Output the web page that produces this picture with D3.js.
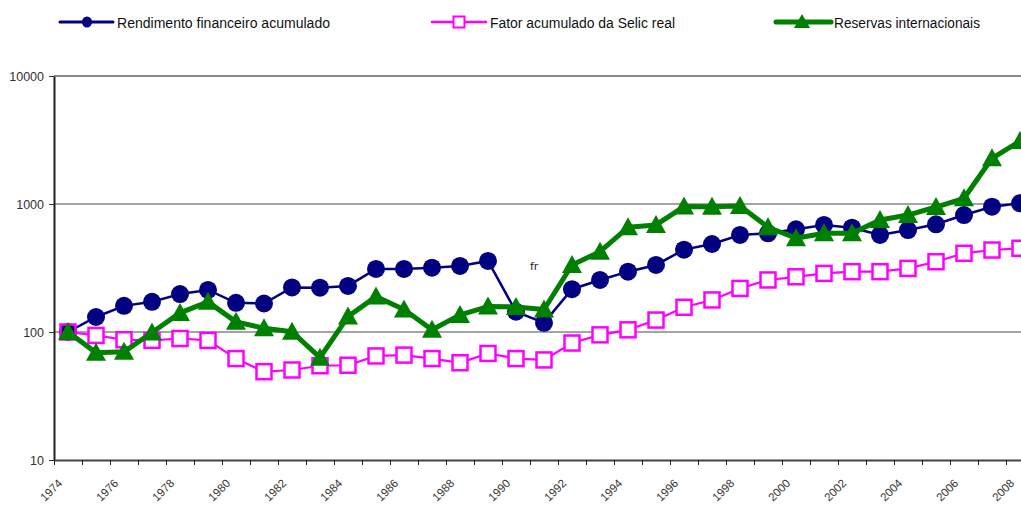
<!DOCTYPE html>
<html>
<head>
<meta charset="utf-8">
<script src="https://cdn.jsdelivr.net/npm/d3@7"></script>
<style>
  body { margin: 0; background: #fff; }
  svg { display: block; }
  .ylab, .xlab { font-family: "Liberation Sans", Arial, sans-serif; fill: #333; }
  .leg { font-family: "Liberation Sans Narrow", "Liberation Sans", Arial, sans-serif; font-size: 15.5px; fill: #111; }
</style>
</head>
<body>
<div id="chart"></div>
<script>
// data (log scale, 1974 = 100)
var years = [1974, 1975, 1976, 1977, 1978, 1979, 1980, 1981, 1982, 1983,
             1984, 1985, 1986, 1987, 1988, 1989, 1990, 1991, 1992, 1993,
             1994, 1995, 1996, 1997, 1998, 1999, 2000, 2001, 2002, 2003,
             2004, 2005, 2006, 2007, 2008];

var rendimento = [100, 131, 160, 172, 198, 213, 169, 167, 223, 222,
                  229, 311, 311, 318, 328, 359, 144, 118, 216, 255,
                  296, 334, 440, 487, 573, 590, 634, 686, 653, 573,
                  626, 694, 820, 952, 1013];

var selic = [100, 94, 87, 86, 89, 86, 62, 49, 50.5, 54.5,
             55, 65, 66, 62, 57.5, 68, 62, 60.5, 82, 95,
             104, 124, 156, 178, 219, 255, 270, 287, 296, 296,
             314, 354, 412, 437, 451];

var reservas = [100, 69, 70, 99, 141, 172, 120, 107, 100.5, 63,
                132, 189, 150, 104, 136, 158, 157, 150, 334, 424,
                658, 686, 955, 952, 965, 658, 540, 590, 590, 750,
                820, 947, 1108, 2276, 3100];

var yTicks = [10, 100, 1000, 10000];
var labelYears = years.filter(function(y) { return y % 2 === 0; });

var legendNames = ["Rendimento financeiro acumulado",
                   "Fator acumulado da Selic real",
                   "Reservas internacionais"];

//---------------------------------------------------------------------------
var W = 1021, H = 505;
var plotLeft = 54, plotTop = 76, plotBottom = 460;
var band = 28;

var svg = d3.select("#chart").append("svg")
    .attr("width", W)
    .attr("height", H);

var x = d3.scaleBand()
    .domain(years)
    .range([plotLeft, plotLeft + band * years.length])
    .padding(0);
var cx = function(d, i) { return x(years[i]) + x.bandwidth() / 2; };

var y = d3.scaleLog()
    .domain([10, 10000])
    .range([plotBottom, plotTop]);

// gridlines (1000 and 100 dark, top border grey)
svg.append("g").selectAll("line")
    .data([100, 1000]).enter()
    .append("line")
    .attr("x1", plotLeft).attr("x2", x.range()[1])
    .attr("y1", function(d) { return y(d); })
    .attr("y2", function(d) { return y(d); })
    .attr("stroke", "#4a4a4a")
    .attr("stroke-width", 1.2);

svg.append("line")
    .attr("x1", plotLeft).attr("x2", x.range()[1])
    .attr("y1", y(10000)).attr("y2", y(10000))
    .attr("stroke", "#8a8a8a")
    .attr("stroke-width", 2);

// y axis
var yAxis = svg.append("g")
    .attr("transform", "translate(" + plotLeft + ",0)")
    .call(d3.axisLeft(y).tickValues(yTicks).tickFormat(d3.format("d")).tickSize(5).tickSizeOuter(0));
yAxis.select(".domain").attr("stroke", "#222").attr("stroke-width", 2);
yAxis.selectAll(".tick line").attr("stroke", "#333");
yAxis.selectAll(".tick text")
    .attr("class", "ylab")
    .attr("font-size", 12.5)
    .attr("x", -10);
yAxis.attr("font-family", null).attr("font-size", null);

// x axis: ticks on category boundaries
var xEdge = d3.scaleLinear()
    .domain([years[0], years[years.length - 1] + 1])
    .range(x.range());
var xAxis = svg.append("g")
    .attr("transform", "translate(0," + plotBottom + ")")
    .call(d3.axisBottom(xEdge)
        .tickValues(d3.range(years[0], years[years.length - 1] + 2))
        .tickFormat("")
        .tickSize(5)
        .tickSizeOuter(0));
xAxis.select(".domain").attr("stroke", "#444").attr("stroke-width", 2.2);
xAxis.selectAll(".tick line").attr("stroke", "#222");

svg.append("g").selectAll("text")
    .data(labelYears).enter()
    .append("text")
    .attr("class", "xlab")
    .attr("font-size", 11.5)
    .attr("text-anchor", "end")
    .attr("transform", function(d) {
        return "translate(" + (x(d) + x.bandwidth() / 2 - 5) + "," + (plotBottom + 24) + ") rotate(-45)";
    })
    .text(function(d) { return d; });

//---------------------------------------------------------------------------
// series
var line = d3.line()
    .x(cx)
    .y(function(d) { return y(d); });

var triangle = "M0,-10L10,8L-10,8Z";

// navy line
svg.append("path")
    .datum(rendimento)
    .attr("d", line)
    .attr("fill", "none")
    .attr("stroke", "#000080")
    .attr("stroke-width", 2.5);

// magenta line + white square backs
svg.append("path")
    .datum(selic)
    .attr("d", line)
    .attr("fill", "none")
    .attr("stroke", "#ff00ff")
    .attr("stroke-width", 2.2);

svg.append("g").selectAll("rect")
    .data(selic).enter()
    .append("rect")
    .attr("x", function(d, i) { return cx(d, i) - 7.5; })
    .attr("y", function(d) { return y(d) - 7.5; })
    .attr("width", 15).attr("height", 15)
    .attr("fill", function(d, i) { return i === 0 ? "none" : "#fff"; });

// navy circles
svg.append("g").selectAll("circle")
    .data(rendimento).enter()
    .append("circle")
    .attr("cx", cx)
    .attr("cy", function(d) { return y(d); })
    .attr("r", 9)
    .attr("fill", "#000080");

// magenta square outlines
svg.append("g").selectAll("rect")
    .data(selic).enter()
    .append("rect")
    .attr("x", function(d, i) { return cx(d, i) - 7.5; })
    .attr("y", function(d) { return y(d) - 7.5; })
    .attr("width", 15).attr("height", 15)
    .attr("fill", "none")
    .attr("stroke", "#ff00ff")
    .attr("stroke-width", 2.5);

// green
svg.append("path")
    .datum(reservas)
    .attr("d", line)
    .attr("fill", "none")
    .attr("stroke", "#008000")
    .attr("stroke-width", 5)
    .attr("stroke-linejoin", "round");

svg.append("g").selectAll("path")
    .data(reservas).enter()
    .append("path")
    .attr("d", triangle)
    .attr("transform", function(d, i) { return "translate(" + cx(d, i) + "," + y(d) + ")"; })
    .attr("fill", "#008000");

// stray label in the source picture
svg.append("text")
    .attr("x", 530).attr("y", 270)
    .attr("font-family", "DejaVu Sans, sans-serif")
    .attr("font-size", 11)
    .attr("fill", "#222")
    .text("fr");

//---------------------------------------------------------------------------
// legend
var legY = 22;
var leg = [
    {x1: 60, x2: 113, mx: 87, tx: 117, tw: 213, color: "#000080", sw: 3},
    {x1: 432, x2: 486, mx: 459, tx: 490, tw: 185, color: "#ff00ff", sw: 2.5},
    {x1: 776, x2: 831, mx: 802, tx: 834, tw: 146, color: "#008000", sw: 5}
];
var lg = svg.append("g").selectAll("g")
    .data(leg).enter()
    .append("g");

lg.append("line")
    .attr("x1", function(d) { return d.x1; })
    .attr("x2", function(d) { return d.x2; })
    .attr("y1", legY).attr("y2", legY)
    .attr("stroke", function(d) { return d.color; })
    .attr("stroke-width", function(d) { return d.sw; })
    .attr("stroke-linecap", "round");

lg.append("text")
    .attr("class", "leg")
    .attr("x", function(d) { return d.tx; })
    .attr("y", legY + 5.5)
    .attr("textLength", function(d) { return d.tw; })
    .attr("lengthAdjust", "spacingAndGlyphs")
    .text(function(d, i) { return legendNames[i]; });

svg.append("ellipse")
    .attr("cx", leg[0].mx).attr("cy", legY)
    .attr("rx", 5).attr("ry", 5.5)
    .attr("fill", "#000080");
svg.append("rect")
    .attr("x", leg[1].mx - 5.5).attr("y", legY - 5.5)
    .attr("width", 11).attr("height", 11)
    .attr("fill", "#fff")
    .attr("stroke", "#ff00ff").attr("stroke-width", 2);
svg.append("path")
    .attr("d", "M0,-8L8,6L-8,6Z")
    .attr("transform", "translate(" + leg[2].mx + "," + legY + ")")
    .attr("fill", "#008000");
</script>
</body>
</html>
